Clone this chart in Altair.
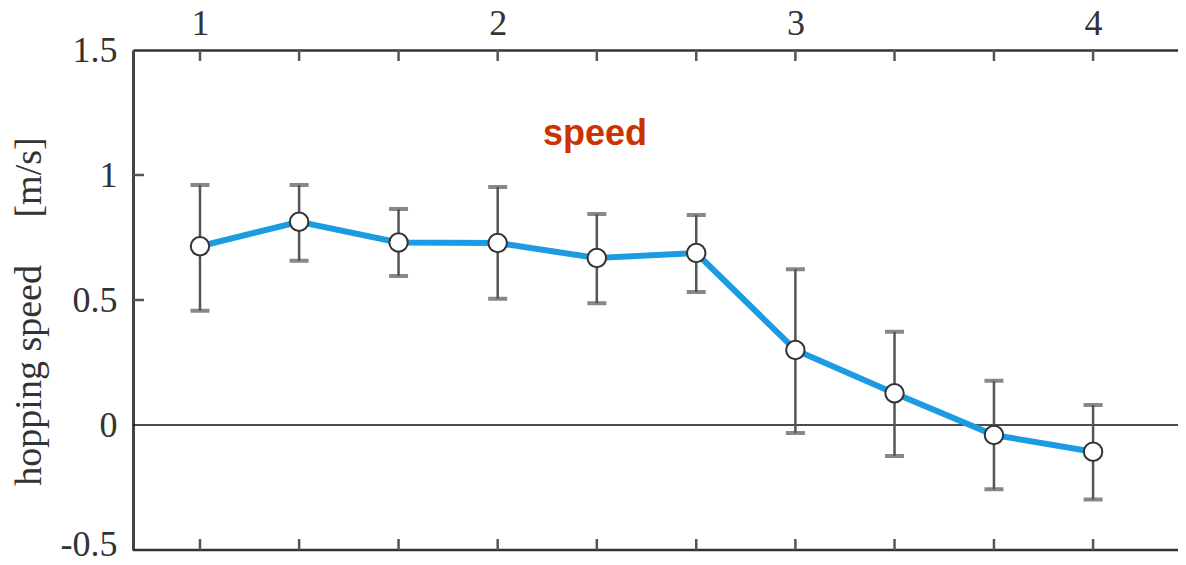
import altair as alt
import pandas as pd

# data
x_pos = [1.0, 1.333, 1.667, 2.0, 2.333, 2.667, 3.0, 3.333, 3.667, 4.0]
means = [0.715, 0.813, 0.73, 0.728, 0.668, 0.688, 0.30, 0.127, -0.04, -0.107]
err_lo = [0.457, 0.657, 0.596, 0.505, 0.487, 0.532, -0.032, -0.124, -0.257, -0.298]
err_hi = [0.96, 0.96, 0.864, 0.952, 0.844, 0.84, 0.623, 0.373, 0.177, 0.08]
x_tick_labels = [1, 2, 3, 4]
y_tick_values = [-0.5, 0, 0.5, 1, 1.5]
y_inner_ticks = [0.5, 1.0]
title_text = "speed"
y_title = "hopping speed" + "\u00a0" * 5 + "[m/s]"

W, H = 1045, 500
df = pd.DataFrame({"x": x_pos, "m": means, "lo": err_lo, "hi": err_hi})
ticks_df = pd.DataFrame({"x": x_pos})
yt_df = pd.DataFrame({"y": y_inner_ticks})

xs = alt.Scale(domain=[0.775, 0.775 + W / 297.7], zero=False, nice=False)
ys = alt.Scale(domain=[-0.5, 1.5], zero=False, nice=False)

frame_col = "#333333"

base = alt.Chart(df)

x_enc = alt.X("x:Q", scale=xs, axis=alt.Axis(
    orient="top", values=x_tick_labels, format="d", ticks=False, grid=False,
    domain=True, domainColor=frame_col, domainWidth=2.5,
    labelFont="Liberation Serif", labelFontSize=36, labelColor="#333333",
    labelPadding=8, title=None))
y_enc = alt.Y("m:Q", scale=ys, axis=alt.Axis(
    values=y_tick_values, labelExpr="toString(datum.value)", ticks=False, grid=False,
    domain=True, domainColor="#444444", domainWidth=3,
    labelFont="Liberation Serif", labelFontSize=36, labelColor="#333333",
    labelBaseline="middle", labelOffset={"expr": "datum.value < -0.4 ? -6 : 0"},
    labelPadding=16, title=y_title, titleFont="Liberation Serif", titleFontSize=38,
    titleFontWeight="normal", titleColor="#333333", titleX=-104, titleY=261,
    titleAlign="center", titleBaseline="middle", titleAngle=270))

zero_line = alt.Chart(pd.DataFrame({"y": [0]})).mark_rule(color="#111111", strokeWidth=1.5).encode(
    y=alt.Y("y:Q", scale=ys), x=alt.value(0), x2=alt.value(W))

bottom_line = alt.Chart(pd.DataFrame({"y": [-0.5]})).mark_rule(color=frame_col, strokeWidth=2.5).encode(
    y=alt.Y("y:Q", scale=ys), x=alt.value(0), x2=alt.value(W))

top_ticks = alt.Chart(ticks_df).mark_rule(color="#555555", strokeWidth=2.5).encode(
    x=alt.X("x:Q", scale=xs), y=alt.value(0), y2=alt.value(11))
bottom_ticks = alt.Chart(ticks_df).mark_rule(color="#555555", strokeWidth=2.5).encode(
    x=alt.X("x:Q", scale=xs), y=alt.value(H), y2=alt.value(H - 11))
left_ticks = alt.Chart(yt_df).mark_rule(color="#555555", strokeWidth=2.5).encode(
    y=alt.Y("y:Q", scale=ys), x=alt.value(0), x2=alt.value(11))

err = base.mark_rule(color="#555555", strokeWidth=2.5).encode(
    x=alt.X("x:Q", scale=xs), y=alt.Y("lo:Q", scale=ys), y2="hi:Q")
cap_lo = base.mark_tick(orient="horizontal", size=19, thickness=4, color="#555555").encode(
    x=alt.X("x:Q", scale=xs), y=alt.Y("lo:Q", scale=ys))
cap_hi = base.mark_tick(orient="horizontal", size=19, thickness=4, color="#555555").encode(
    x=alt.X("x:Q", scale=xs), y=alt.Y("hi:Q", scale=ys))

line = base.mark_line(color="#1b9ce2", strokeWidth=6).encode(
    x=alt.X("x:Q", scale=xs), y=alt.Y("m:Q", scale=ys))
pts = base.mark_point(filled=True, fill="white", stroke="#333333", strokeWidth=2,
                      size=340, opacity=1, shape="circle").encode(x=x_enc, y=y_enc)

title = alt.Chart(pd.DataFrame({"t": [title_text]})).mark_text(
    font="Liberation Sans", fontSize=36, fontWeight="bold", color="#cc3300",
    align="center", baseline="middle").encode(
    text="t:N", x=alt.value(462), y=alt.value(84))

chart = alt.layer(zero_line, bottom_line, top_ticks, bottom_ticks, left_ticks,
                  err, cap_lo, cap_hi, line, pts, title).properties(
    width=W, height=H,
    autosize=alt.AutoSizeParams(type="none"),
    padding={"left": 125, "top": 42, "right": 0, "bottom": 7},
).configure_view(stroke=None).configure(background="white")

chart.save("out.html", embed_options={"renderer": "svg", "actions": False})
